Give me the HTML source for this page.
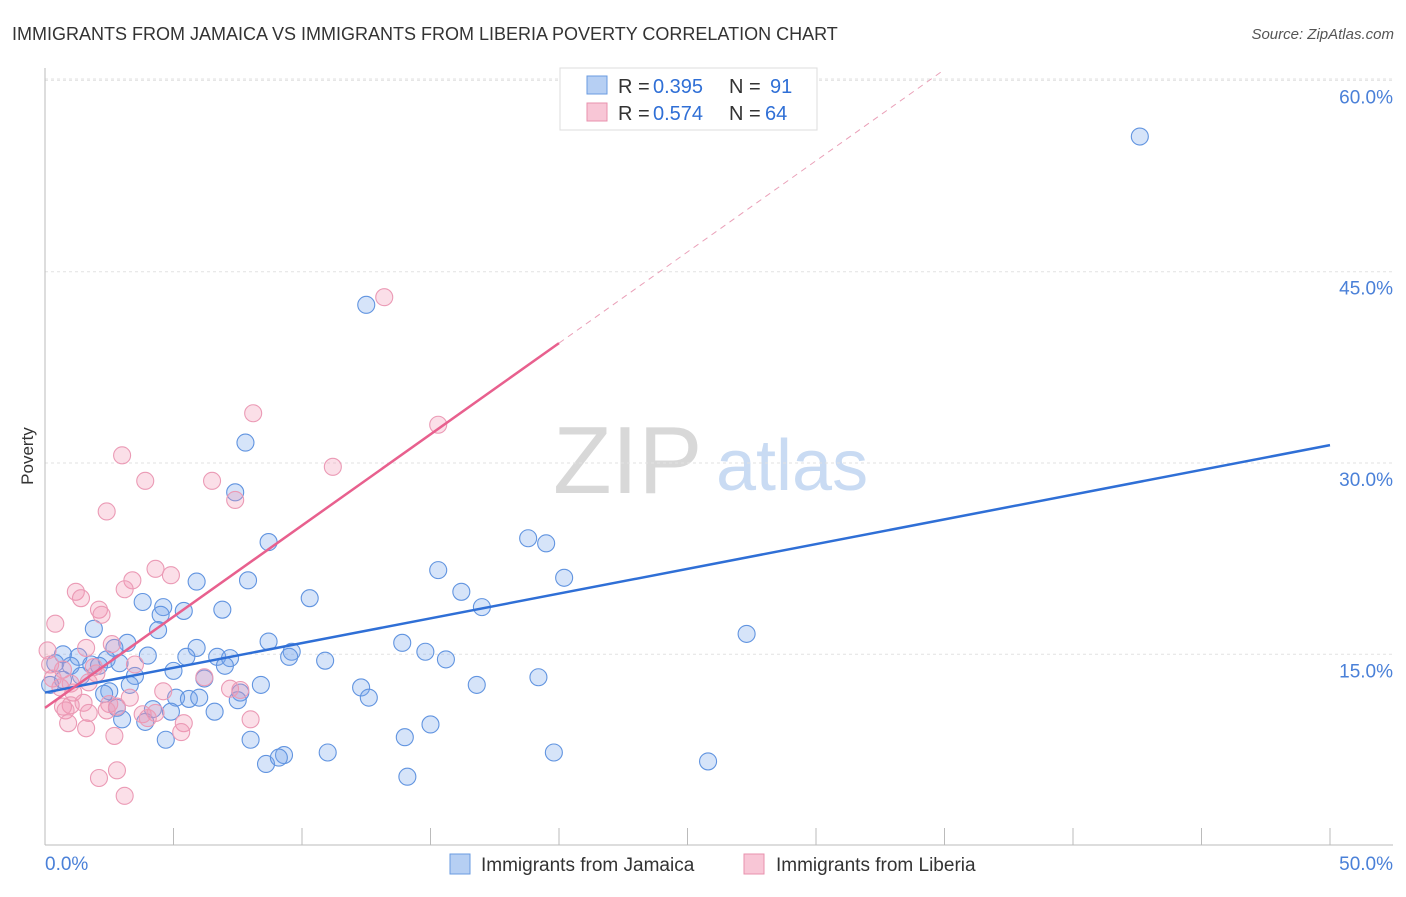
<!DOCTYPE html>
<html><head><meta charset="utf-8"><style>
body{margin:0;background:#fff;font-family:"Liberation Sans",sans-serif}
svg text{font-family:"Liberation Sans",sans-serif}
</style></head><body>
<svg id="chart" width="1406" height="892">
<text x="12" y="40" font-size="18" fill="#333">IMMIGRANTS FROM JAMAICA VS IMMIGRANTS FROM LIBERIA POVERTY CORRELATION CHART</text>
<text x="1394" y="39" font-size="15" fill="#555" font-style="italic" text-anchor="end">Source: ZipAtlas.com</text>
<text x="33" y="456" font-size="17" fill="#333" transform="rotate(-90 33 456)" text-anchor="middle">Poverty</text>
<g>
<text x="553" y="493" font-size="96" fill="#d8d8d8" font-family="Liberation Serif,serif">ZIP</text>
<text x="716" y="490" font-size="72" fill="#c9dbf3">atlas</text>
</g>
<g id="grid"></g><g id="axes"></g><g id="pts"></g><g id="lines"></g>
<g>
<rect x="560" y="68" width="257" height="62" fill="#fff" stroke="#ddd"/>
<rect x="587" y="76" width="20" height="18" fill="#b6cff3" stroke="#6a9be0"/>
<rect x="587" y="103" width="20" height="18" fill="#f8c6d6" stroke="#e891ae"/>
<text x="618" y="93" font-size="20" fill="#333">R =</text>
<text x="653" y="93" font-size="20" fill="#2f6fd6">0.395</text>
<text x="729" y="93" font-size="20" fill="#333">N =</text>
<text x="770" y="93" font-size="20" fill="#2f6fd6">91</text>
<text x="618" y="120" font-size="20" fill="#333">R =</text>
<text x="653" y="120" font-size="20" fill="#2f6fd6">0.574</text>
<text x="729" y="120" font-size="20" fill="#333">N =</text>
<text x="765" y="120" font-size="20" fill="#2f6fd6">64</text>
</g>
<g>
<rect x="450" y="854" width="20" height="20" fill="#b6cff3" stroke="#6a9be0"/>
<text x="481" y="871" font-size="19" fill="#333">Immigrants from Jamaica</text>
<rect x="744" y="854" width="20" height="20" fill="#f8c6d6" stroke="#e891ae"/>
<text x="776" y="871" font-size="19" fill="#333">Immigrants from Liberia</text>
</g>
</svg>
<script>
const yTicks=[15,30,45,60];
const yTickLabels=["15.0%","30.0%","45.0%","60.0%"];
const xTickLabels=["0.0%","50.0%"];
const blueX=[42.6,12.5,7.8,7.4,8.7,18.8,19.5,15.3,20.2,5.9,7.9,16.2,10.3,3.8,17.0,4.6,6.9,5.4,4.5,1.9,4.4,27.3,3.2,8.7,13.9,5.9,2.7,9.6,14.8,9.5,0.7,1.3,4.0,5.5,6.7,7.2,15.6,10.9,2.4,0.4,1.0,1.8,2.1,2.9,5.0,7.0,3.5,1.4,0.7,0.2,6.2,19.2,8.4,16.8,3.3,12.3,2.5,2.3,7.6,5.1,5.6,6.0,12.6,7.5,2.8,4.2,4.9,6.6,3.0,3.9,15.0,4.7,8.0,14.0,11.0,9.3,19.8,8.6,9.1,25.8,14.1];
const blueY=[55.6,42.4,31.6,27.7,23.8,24.1,23.7,21.6,21.0,20.7,20.8,19.9,19.4,19.1,18.7,18.7,18.5,18.4,18.1,17.0,16.9,16.6,15.9,16.0,15.9,15.5,15.5,15.2,15.2,14.8,15.0,14.8,14.9,14.8,14.8,14.7,14.6,14.5,14.6,14.3,14.1,14.2,14.1,14.3,13.7,14.1,13.3,13.3,13.0,12.6,13.1,13.2,12.6,12.6,12.6,12.4,12.1,11.9,12.0,11.6,11.5,11.6,11.6,11.4,10.8,10.7,10.5,10.5,9.9,9.7,9.5,8.3,8.3,8.5,7.3,7.1,7.3,6.4,6.9,6.6,5.4];
const pinkX=[13.2,8.1,15.3,3.0,11.2,3.9,6.5,7.4,2.4,4.3,4.9,3.4,1.2,1.4,3.1,2.1,2.2,0.4,2.6,1.6,0.1,3.5,0.2,1.9,0.7,6.2,2.0,0.3,1.0,1.7,0.6,1.1,4.6,7.6,7.2,3.3,1.5,2.5,1.0,0.7,0.8,2.8,4.3,3.8,2.4,1.7,8.0,4.0,5.4,0.9,1.6,5.3,2.7,2.8,2.1,3.1];
const pinkY=[43.0,33.9,33.0,30.6,29.7,28.6,28.6,27.1,26.2,21.7,21.2,20.8,19.9,19.4,20.1,18.5,18.1,17.4,15.8,15.5,15.3,14.2,14.2,14.0,13.8,13.2,13.5,13.1,12.7,12.8,12.4,12.0,12.1,12.2,12.3,11.6,11.2,11.1,11.0,10.9,10.6,10.9,10.4,10.3,10.6,10.4,9.9,10.0,9.6,9.6,9.2,8.9,8.6,5.9,5.3,3.9];
const blueFit=[12.0,31.4];
const pinkFit=[10.8,39.4];
const X0=45,X1=1330,Y0=845.6,YS=191.3/15;
const sx=v=>X0+(X1-X0)*v/50, sy=v=>Y0-v*YS;
const NS="http://www.w3.org/2000/svg";
function mk(p,t,a){const e=document.createElementNS(NS,t);for(const k in a)e.setAttribute(k,a[k]);p.appendChild(e);return e;}
const grid=document.getElementById('grid'),axes=document.getElementById('axes'),pts=document.getElementById('pts'),lines=document.getElementById('lines');
yTicks.forEach((t,i)=>{
 const g=mk(grid,'line',{x1:45,x2:1393,y1:sy(t),y2:sy(t),stroke:'#e2e2e2','stroke-dasharray':'3,3'});
 
 
 const tx=mk(grid,'text',{x:1393,y:sy(t)+23,'font-size':19,fill:'#4a80d8','text-anchor':'end'});
 tx.textContent=yTickLabels[i];
 
 
});
mk(grid,'line',{x1:45,x2:1393,y1:79,y2:79,stroke:'#e2e2e2','stroke-dasharray':'3,3'});
const la=mk(axes,'line',{x1:45,x2:45,y1:68,y2:845,stroke:'#bbb'});


const ba=mk(axes,'line',{x1:45,x2:1393,y1:845,y2:845,stroke:'#bbb'});


for(let i=0;i<=10;i++){const x=sx(i*5);mk(axes,'line',{x1:x,x2:x,y1:828,y2:845,stroke:'#bbb'});}
xTickLabels.forEach((l,i)=>{
 const t=mk(axes,'text',{x:i?1393:45,y:870,'font-size':19,fill:'#4a80d8','text-anchor':i?'end':'start'});
 t.textContent=l;
 
 
});
function dots(X,Y,fill,stroke,name){X.forEach((x,i)=>{
 const c=mk(pts,'circle',{cx:sx(x),cy:sy(Y[i]),r:8.5,fill:fill,stroke:stroke,'stroke-width':1.1});
 
 
});}
dots(blueX,blueY,'rgba(120,165,235,0.3)','#6194e0','point-jamaica');
dots(pinkX,pinkY,'rgba(242,150,180,0.3)','#eb9ab5','point-liberia');
const bl=mk(lines,'line',{x1:sx(0),y1:sy(blueFit[0]),x2:sx(50),y2:sy(blueFit[1]),stroke:'#2f6fd6','stroke-width':2.5});


const slope=(pinkFit[1]-pinkFit[0])/20;
const pl=mk(lines,'line',{x1:sx(0),y1:sy(pinkFit[0]),x2:sx(20),y2:sy(pinkFit[1]),stroke:'#e8608e','stroke-width':2.5});


const xe=(60.8-pinkFit[0])/slope;
const pd=mk(lines,'line',{x1:sx(20),y1:sy(pinkFit[1]),x2:sx(xe),y2:sy(60.8),stroke:'#eaa0b8','stroke-width':1,'stroke-dasharray':'6,5'});


</script>
</body></html>
